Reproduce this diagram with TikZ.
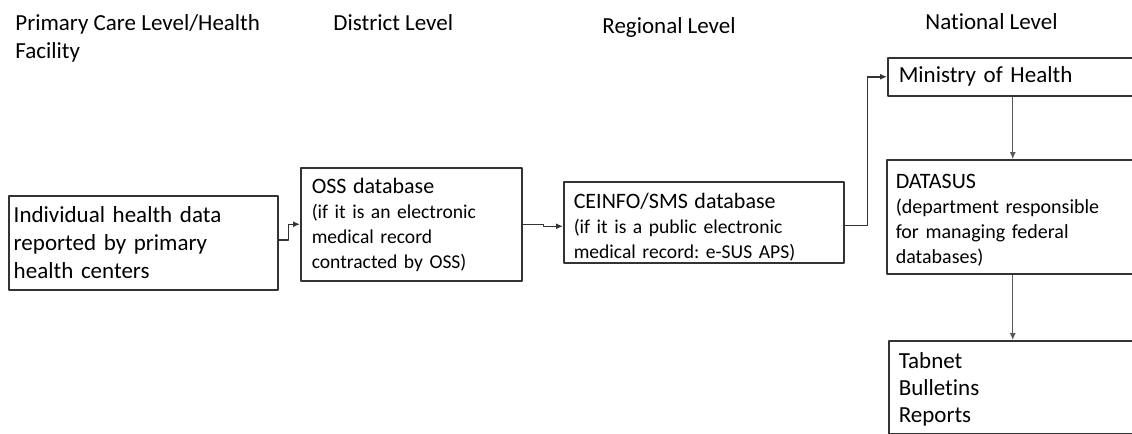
\documentclass[tikz,border=0pt]{standalone}
\usepackage{fontspec}
\setmainfont{Carlito}[Ligatures=NoCommon]
\frenchspacing
\usetikzlibrary{arrows.meta}
\begin{document}
\begin{tikzpicture}[x=0.5pt, y=-0.5pt, line join=round, >={Latex[length=3.5pt,width=3pt]},
	box/.style={draw=black!80, line width=0.75pt, rectangle, anchor=north west, align=left,
		inner ysep=0pt, font=\fontsize{11.5}{14}\selectfont},
	smallbox/.style={box, font=\fontsize{9.8}{12.5}\selectfont},
	level/.style={anchor=base west, inner sep=0pt, align=left, font=\fontsize{11.5}{14}\selectfont},
	link/.style={draw=black!80, line width=0.75pt, ->},
	down/.style={draw=black!65, line width=0.5pt, ->}]
	\clip (0,0) rectangle (1132,434);
	% headings of the levels
	\node[level] (primary) at (15,58) {Primary Care Level/Health\\Facility};
	\node[level] (district) at (333,30) {District Level};
	\node[level] (regional) at (602,33) {Regional Level};
	\node[level] (national) at (925,29) {National Level};
	% boxes
	\node[box, text width=129.5pt, minimum height=47pt, inner xsep=2.5pt] (indiv) at (8,195)
	{Individual health data\\reported by primary\\health centers};
	\node[smallbox, text width=99.5pt, minimum height=56.5pt, inner xsep=5.5pt] (oss) at (300,167)
	{\rule{0pt}{13pt}{\fontsize{11}{12.5}\selectfont OSS database}\\(if it is an electronic\\medical record\\contracted by OSS)\rule[-6pt]{0pt}{6pt}};
	\node[smallbox, text width=130pt, minimum height=40.5pt, inner xsep=5pt] (ceinfo) at (563,181)
	{\rule{0pt}{13.5pt}{\fontsize{11}{12.5}\selectfont CEINFO/SMS database}\\(if it is a public electronic\\medical record: e-SUS APS)\rule[-2pt]{0pt}{2pt}};
	\node[box, text width=114pt, minimum height=19pt, inner xsep=5.5pt] (moh) at (887,57)
	{Ministry of Health};
	\node[smallbox, text width=117pt, minimum height=57pt, inner xsep=4.5pt,
	font=\fontsize{10}{12.5}\selectfont] (datasus) at (886,159)
	{\rule{0pt}{14.5pt}{\fontsize{11}{12.5}\selectfont DATASUS}\\(department responsible\\for managing federal\\databases)\rule[-5pt]{0pt}{5pt}};
	\node[box, text width=114pt, minimum height=46.5pt, inner xsep=5pt,
	font=\fontsize{11.5}{13.5}\selectfont] (outputs) at (888,340)
	{\rule{0pt}{14pt}Tabnet\\Bulletins\\Reports\rule[-5.5pt]{0pt}{5.5pt}};
	% connectors
	\draw[link] ([yshift=1.5pt]indiv.east) -- ++(10,0) |- (oss.west);
	\draw[link] (oss.east) -- ++(21,0) |- ([yshift=-2pt]ceinfo.west);
	\draw[link] ([yshift=-1.5pt]ceinfo.east) -- ++(23,0) |- (moh.west);
	\draw[down] (moh.south) -- (datasus.north);
	\draw[down] (datasus.south) -- (outputs.north);
\end{tikzpicture}
\end{document}
